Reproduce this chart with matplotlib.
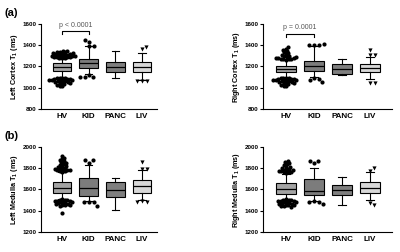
import numpy as np
import matplotlib
matplotlib.use("Agg")
import matplotlib.pyplot as plt

plt.rcParams['font.family'] = ['Liberation Sans', 'DejaVu Sans']
plt.rcParams['mathtext.default'] = 'regular'

groups = ["HV", "KID", "PANC", "LIV"]
box_colors = ["#a3a3a3", "#7c7c7c", "#7f7f7f", "#d8d8d8"]
out_markers = ["o", "o", "o", "v"]

# Left cortex T1 (ms)
lc_q1 = [1158, 1185, 1145, 1152]
lc_med = [1192, 1232, 1198, 1198]
lc_q3 = [1230, 1268, 1245, 1240]
lc_wlo = [1100, 1127, 1095, 1075]
lc_whi = [1275, 1390, 1350, 1325]
lc_out_hv = [1280, 1280, 1282, 1285, 1288, 1290, 1292, 1295, 1298, 1300, 1303, 1305, 1308,
             1310, 1313, 1316, 1320, 1323, 1326, 1330, 1333, 1337, 1340, 1344, 1350,
             1095, 1092, 1090, 1088, 1085, 1082, 1080, 1077, 1075, 1072, 1070, 1066,
             1063, 1060, 1056, 1052, 1048, 1044, 1040, 1035, 1028, 1020, 1012]
lc_out_kid = [1450, 1435, 1395, 1390, 1098, 1120, 1104, 1098]
lc_out_panc = []
lc_out_liv = [1362, 1386, 1063, 1062, 1067]

# Right cortex T1 (ms)
rc_q1 = [1145, 1156, 1131, 1147]
rc_med = [1175, 1203, 1178, 1184]
rc_q3 = [1205, 1256, 1225, 1219]
rc_wlo = [1100, 1105, 1120, 1085]
rc_whi = [1260, 1390, 1272, 1292]
rc_out_hv = [1380, 1368, 1356, 1346, 1336, 1326, 1316, 1308, 1300, 1296, 1292, 1288,
             1284, 1280, 1278, 1275, 1272, 1270, 1268, 1265,
             1095, 1092, 1090, 1088, 1085, 1082, 1080, 1077, 1075, 1072, 1070, 1066,
             1063, 1060, 1056, 1052, 1048, 1044, 1040, 1035, 1028, 1020, 1012]
rc_out_kid = [1399, 1399, 1400, 1408, 1085, 1053, 1075, 1094]
rc_out_panc = []
rc_out_liv = [1357, 1310, 1305, 1043, 1045]

# Left medulla T1 (ms)
lm_q1 = [1563, 1537, 1528, 1569]
lm_med = [1610, 1616, 1593, 1631]
lm_q3 = [1668, 1709, 1668, 1694]
lm_wlo = [1515, 1495, 1407, 1500]
lm_whi = [1760, 1834, 1709, 1785]
lm_out_hv = [1915, 1900, 1888, 1876, 1866, 1856, 1848, 1840, 1832, 1824, 1818, 1812,
             1806, 1800, 1796, 1792, 1788, 1784, 1780, 1776, 1772, 1768,
             1508, 1505, 1502, 1498, 1495, 1492, 1488, 1485, 1482, 1478, 1475, 1470,
             1466, 1462, 1458, 1454, 1450, 1445, 1380]
lm_out_kid = [1876, 1850, 1876, 1448, 1480, 1480, 1480]
lm_out_panc = []
lm_out_liv = [1855, 1795, 1795, 1480, 1482, 1490]

# Right medulla T1 (ms)
rm_q1 = [1562, 1544, 1547, 1569]
rm_med = [1607, 1585, 1593, 1616]
rm_q3 = [1663, 1700, 1640, 1675]
rm_wlo = [1515, 1490, 1453, 1497]
rm_whi = [1750, 1800, 1715, 1766]
rm_out_hv = [1870, 1858, 1846, 1836, 1826, 1816, 1808, 1800, 1794, 1788, 1784, 1780,
             1776, 1772, 1768, 1764, 1760, 1756,
             1508, 1505, 1502, 1498, 1495, 1492, 1488, 1485, 1482, 1478, 1475, 1470,
             1466, 1462, 1458, 1454, 1450, 1446, 1442, 1438]
rm_out_kid = [1870, 1850, 1870, 1460, 1490, 1480, 1480]
rm_out_panc = []
rm_out_liv = [1800, 1770, 1455, 1477]


def swarm(vals, center, xpx, ypx, d):
    # simple beeswarm: place each point as close to the centre as possible
    vals = np.asarray(vals, dtype=float)
    order = np.argsort(np.abs(vals - center))
    placed = []
    xs = np.zeros(len(vals))
    for i in order:
        y = vals[i] * ypx
        cands = [0.0]
        for (px, py) in placed:
            dy = abs(py - y)
            if dy < d:
                dx = np.sqrt(d * d - dy * dy)
                cands += [px + dx, px - dx]
        cands.sort(key=abs)
        for c in cands:
            if all((c - px) ** 2 + (y - py) ** 2 >= d * d - 1e-6 for px, py in placed):
                xs[i] = c / xpx
                placed.append((c, y))
                break
    return xs


def panel(rect, q1, med, q3, wlo, whi, outs, ylim, yticks, ylabel, xlim):
    ax = fig.add_axes(rect)
    stats = []
    for i in range(4):
        stats.append({"q1": q1[i], "med": med[i], "q3": q3[i],
                      "whislo": wlo[i], "whishi": whi[i], "fliers": []})
    bp = ax.bxp(stats, positions=range(4), widths=0.7, patch_artist=True,
                showfliers=False,
                boxprops=dict(linewidth=0.8, edgecolor="black"),
                medianprops=dict(color="black", linewidth=0.9),
                whiskerprops=dict(color="black", linewidth=0.8),
                capprops=dict(color="black", linewidth=0.8),
                capwidths=0.28)
    for patch, c in zip(bp["boxes"], box_colors):
        patch.set_facecolor(c)
    ax.set_xlim(*xlim)
    ax.set_ylim(*ylim)
    xpx = ax.bbox.width / (xlim[1] - xlim[0])
    ypx = ax.bbox.height / (ylim[1] - ylim[0])
    for i, vals in enumerate(outs):
        if len(vals) == 0:
            continue
        d = 2.6 if i == 0 else 4.8
        dx = swarm(vals, med[i], xpx, ypx, d)
        ax.plot(i + dx, vals, linestyle="none", marker=out_markers[i],
                markersize=3.0, color="black", markeredgewidth=0, clip_on=False)
    ax.set_yticks(yticks)
    ax.set_yticklabels([str(t) for t in yticks], fontsize=4.5, fontweight="bold")
    ax.set_xticks(range(4))
    ax.set_xticklabels(groups, fontsize=5.8, fontweight="bold")
    ax.tick_params(axis="y", length=2, width=0.8, pad=1)
    ax.tick_params(axis="x", length=0, pad=3)
    ax.set_ylabel(ylabel, fontsize=5.2, fontweight="bold", labelpad=2)
    for s in ["top", "right"]:
        ax.spines[s].set_visible(False)
    for s in ["left", "bottom"]:
        ax.spines[s].set_linewidth(0.8)
    return ax


fig = plt.figure(figsize=(4, 2.52), dpi=100)

ax1 = panel([0.1025, 0.5675, 0.29, 0.3373], lc_q1, lc_med, lc_q3, lc_wlo, lc_whi,
            [lc_out_hv, lc_out_kid, lc_out_panc, lc_out_liv], (800, 1600),
            [800, 1000, 1200, 1400, 1600], "Left Cortex T$_1$ (ms)", (-0.79, 3.56))
ax2 = panel([0.6575, 0.5675, 0.3225, 0.3373], rc_q1, rc_med, rc_q3, rc_wlo, rc_whi,
            [rc_out_hv, rc_out_kid, rc_out_panc, rc_out_liv], (800, 1600),
            [800, 1000, 1200, 1400, 1600], "Right Cortex T$_1$ (ms)", (-0.82, 3.78))
ax3 = panel([0.1025, 0.0794, 0.29, 0.3373], lm_q1, lm_med, lm_q3, lm_wlo, lm_whi,
            [lm_out_hv, lm_out_kid, lm_out_panc, lm_out_liv], (1200, 2000),
            [1200, 1400, 1600, 1800, 2000], "Left Medulla T$_1$ (ms)", (-0.79, 3.56))
ax4 = panel([0.6575, 0.0794, 0.3225, 0.3373], rm_q1, rm_med, rm_q3, rm_wlo, rm_whi,
            [rm_out_hv, rm_out_kid, rm_out_panc, rm_out_liv], (1200, 2000),
            [1200, 1400, 1600, 1800, 2000], "Right Medulla T$_1$ (ms)", (-0.82, 3.78))

# significance brackets
ax1.plot([0, 0, 1, 1], [1506, 1534, 1534, 1506], color="black", linewidth=0.8, clip_on=False)
ax1.text(0.5, 1590, "p < 0.0001", ha="center", va="center", fontsize=5, color="#555555")
ax2.plot([0, 0, 1, 1], [1474, 1506, 1506, 1474], color="black", linewidth=0.8, clip_on=False)
ax2.text(0.5, 1570, "p = 0.0001", ha="center", va="center", fontsize=5, color="#555555")

fig.text(0.012, 0.95, "(a)", fontsize=8, fontweight="bold", va="center")
fig.text(0.012, 0.46, "(b)", fontsize=8, fontweight="bold", va="center")

fig.savefig("out.png", dpi=100)
